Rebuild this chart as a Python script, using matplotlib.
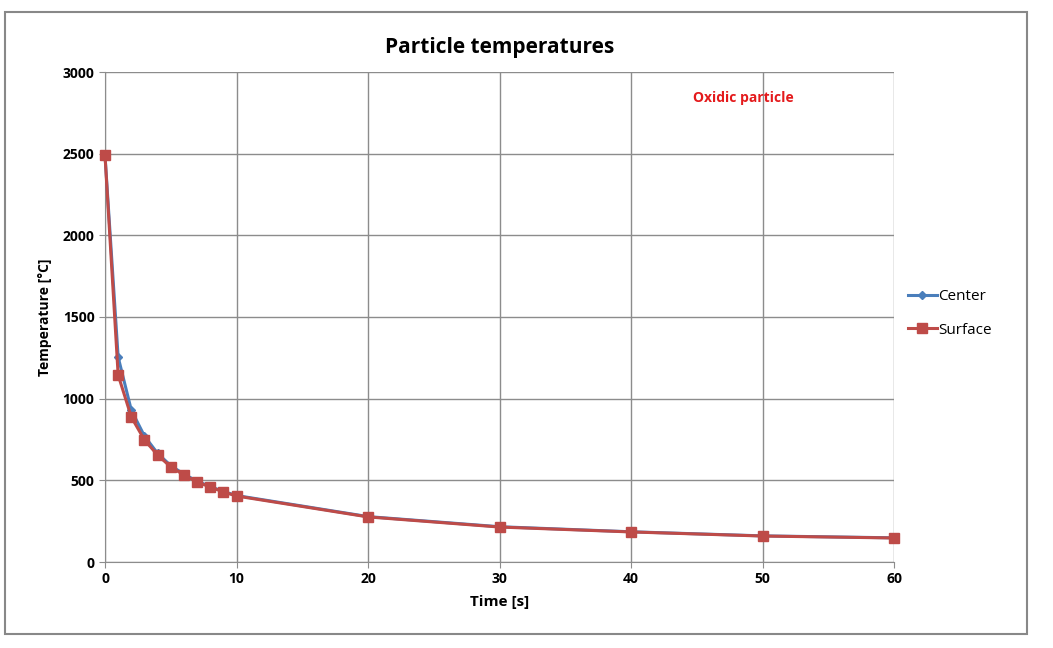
import matplotlib
matplotlib.use("Agg")
import matplotlib.pyplot as plt
from matplotlib.patches import Rectangle

time_s = [0, 1, 2, 3, 4, 5, 6, 7, 8, 9, 10, 20, 30, 40, 50, 60]
center = [2490, 1255, 930, 771, 665, 590, 538, 495, 462, 432, 407, 278, 216, 185, 160, 148]
surface = [2490, 1145, 888, 747, 655, 582, 533, 490, 459, 429, 404, 276, 214, 184, 159, 147]

plt.rcParams['font.family'] = ['Open Sans', 'DejaVu Sans']

fig = plt.figure(figsize=(10.53, 6.48), dpi=100)
fig.patches.append(Rectangle((5/1053, 1-634/648), 1022/1053, 622/648, transform=fig.transFigure,
                             fill=False, edgecolor='#888888', linewidth=1.5))
ax = fig.add_axes([105/1053, 1-562/648, (894-105)/1053, (562-72)/648])

ax.plot(time_s, center, color='#4a7ebb', linewidth=2.2, marker='D', markersize=4,
        label='Center', zorder=3, clip_on=False)
ax.plot(time_s, surface, color='#be4b48', linewidth=2.2, marker='s', markersize=7,
        markeredgecolor='#be4b48', label='Surface', zorder=4, clip_on=False)

ax.set_xlim(0, 60)
ax.set_ylim(0, 3000)
ax.set_xticks(range(0, 61, 10))
ax.set_yticks(range(0, 3001, 500))
ax.grid(True, color='#8c8c8c', linewidth=1)
ax.set_axisbelow(True)
for s in ['top', 'right']:
    ax.spines[s].set_visible(False)
ax.spines['left'].set_color('#8c8c8c')
ax.spines['bottom'].set_color('#8c8c8c')
ax.tick_params(axis='both', colors='#8c8c8c', labelcolor='black', labelsize=10, length=4)
for lab in ax.get_xticklabels() + ax.get_yticklabels():
    lab.set_fontweight('bold')

ax.set_xlabel('Time [s]', fontsize=11, fontweight='bold', labelpad=6)
ax.set_ylabel('Temperature [°C]', fontsize=10, fontweight='bold', labelpad=8)
ax.set_title('Particle temperatures', fontsize=15, fontweight='bold', pad=14)
ax.text(0.809, 0.947, 'Oxidic particle', transform=ax.transAxes, color='#e41a1c',
        fontsize=10, fontweight='bold', ha='center', va='center')

ax.legend(loc='center left', bbox_to_anchor=(1.0, 0.507), frameon=False, fontsize=11,
          handlelength=1.9, handletextpad=0.1, labelspacing=1.2)

fig.savefig('out.png', dpi=100)
